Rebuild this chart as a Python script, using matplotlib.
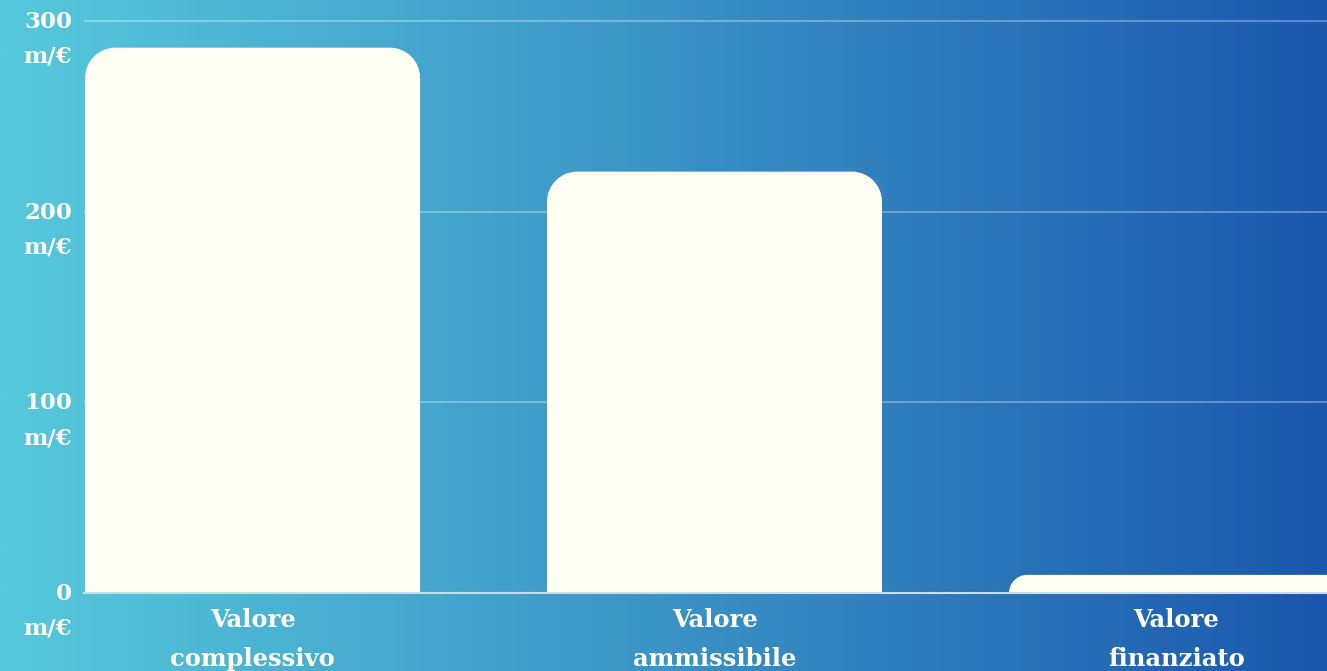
import numpy as np
import matplotlib.pyplot as plt
from matplotlib.path import Path
from matplotlib.patches import PathPatch
from matplotlib.colors import LinearSegmentedColormap
from matplotlib.transforms import ScaledTranslation

# data
categories = ['Valore\ncomplessivo', 'Valore\nammissibile', 'Valore\nfinanziato']
values = [286, 221, 9.5]
y_ticks = [0, 100, 200, 300]
y_labels = [f'{t}\nm/€' for t in y_ticks]

bar_color = '#fffff3'
text_color = '#fffff3'
font = 'DejaVu Serif'

fig = plt.figure(figsize=(13.27, 6.71), dpi=100)

# gradient background
bg = fig.add_axes([0, 0, 1, 1], zorder=0)
cmap = LinearSegmentedColormap.from_list('bg', ['#56c9dc', '#3b93c6', '#1a58ae'])
bg.imshow(np.linspace(0, 1, 512).reshape(1, -1), aspect='auto', cmap=cmap, extent=[0, 1, 0, 1])
bg.axis('off')

W, H = 1327, 671
ymax = 305
px_per_unit = (593 - 21) / 300
top_px = 593 - ymax * px_per_unit
ax = fig.add_axes([84 / W, 1 - 593 / H, 1 - 84 / W, (593 - top_px) / H], zorder=1)
ax.patch.set_alpha(0)

x = np.arange(len(categories))
width = 0.725
bars = ax.bar(x, values, width=width, color='none', edgecolor='none')
ax.set_xlim(-0.365, 2.326)
ax.set_ylim(0, ymax)

# rounded top corners
rx_px, ry_px = 30, 30
sx = (W - 84) / (2.326 + 0.365)
rx = rx_px / sx
ry_full = ry_px / px_per_unit
k = 0.5523
for b in bars:
    x0, y0 = b.get_x(), 0
    x1, h = x0 + b.get_width(), b.get_height()
    y1 = h
    ry = min(ry_full, h)
    rxx = rx * ry / ry_full
    verts = [(x0, y0), (x0, y1 - ry),
             (x0, y1 - ry + k * ry), (x0 + rxx - k * rxx, y1), (x0 + rxx, y1),
             (x1 - rxx, y1),
             (x1 - rxx + k * rxx, y1), (x1, y1 - ry + k * ry), (x1, y1 - ry),
             (x1, y0), (x0, y0)]
    codes = [Path.MOVETO, Path.LINETO,
             Path.CURVE4, Path.CURVE4, Path.CURVE4,
             Path.LINETO,
             Path.CURVE4, Path.CURVE4, Path.CURVE4,
             Path.LINETO, Path.CLOSEPOLY]
    ax.add_patch(PathPatch(Path(verts, codes), facecolor=bar_color, edgecolor='none', zorder=3))

# grid and spines
for t in y_ticks[1:]:
    ax.axhline(t, color='white', alpha=0.3, lw=1.5, zorder=1)
for s in ['top', 'right', 'left']:
    ax.spines[s].set_visible(False)
ax.spines['bottom'].set_color('#c8dde6')
ax.spines['bottom'].set_linewidth(1.5)
ax.spines['bottom'].set_zorder(4)

# y labels: first line centred on the gridline
ax.set_yticks(y_ticks)
ax.set_yticklabels([])
ax.tick_params(axis='y', length=0)
ytrans = ax.get_yaxis_transform() + ScaledTranslation(-12 / 100, 10 / 100, fig.dpi_scale_trans)
for t, lab in zip(y_ticks, y_labels):
    ax.text(0, t, lab, transform=ytrans, ha='right', va='top', ma='right',
            fontsize=16.5, fontweight='bold', color=text_color, fontfamily=font,
            linespacing=1.75, clip_on=False)

ax.set_xticks(x)
ax.set_xticklabels(categories, fontsize=17.5, fontweight='bold', color=text_color,
                   fontfamily=font, linespacing=1.8)
ax.tick_params(axis='x', length=0, pad=11)

fig.savefig('out.png', dpi=100)
